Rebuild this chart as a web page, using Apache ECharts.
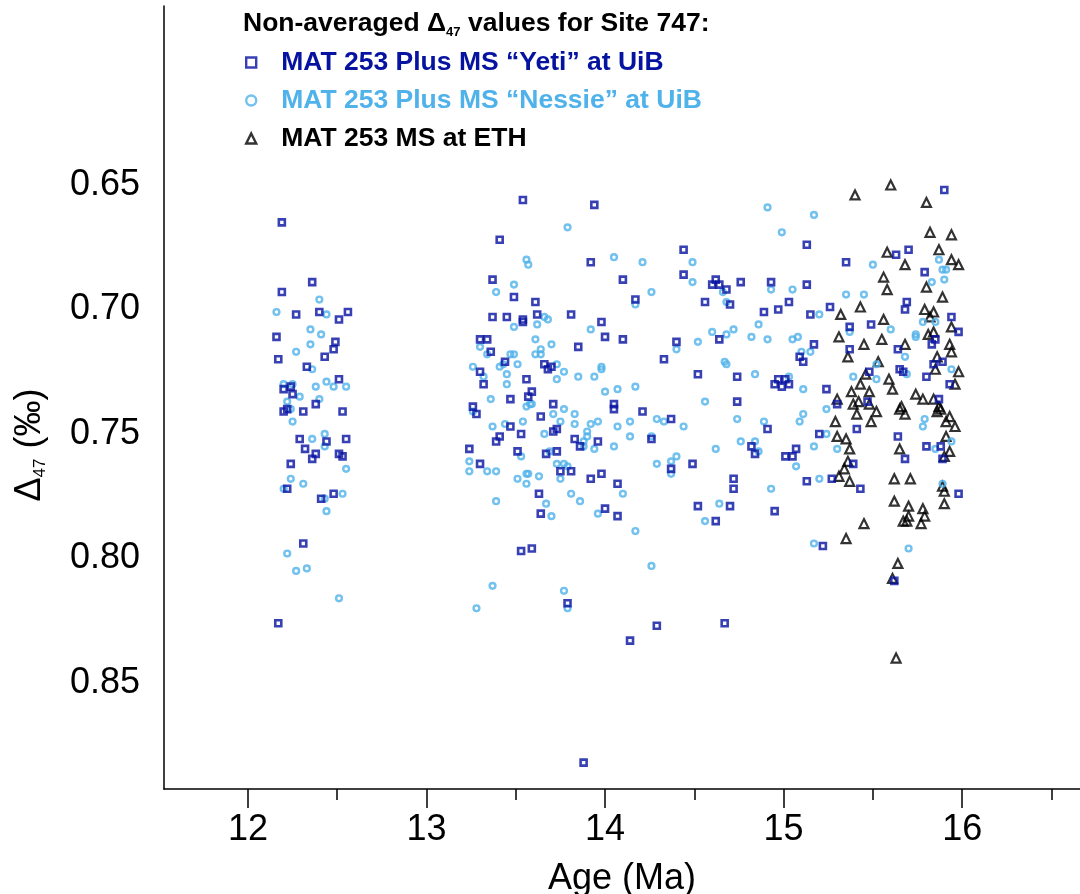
<!DOCTYPE html>
<html>
<head>
<meta charset="utf-8">
<script src="https://cdn.jsdelivr.net/npm/echarts@6/dist/echarts.min.js"></script>
<style>
html, body { margin: 0; background: #fff; }
#main { width: 1080px; height: 894px; }
</style>
</head>
<body>
<div id="main"></div>
<script>
// MAT 253 Plus MS "Yeti" at UiB
var yetiAge = [12.19,12.36,12.19,12.27,12.40,12.56,12.51,12.16,12.49,12.48,12.17,12.43,12.33,12.51,12.24,12.20,12.25,12.38,
  12.20,12.22,12.31,12.53,12.29,12.44,12.55,12.32,12.38,12.36,12.51,12.53,12.24,12.22,12.41,12.48,12.31,12.17,
  13.54,13.94,13.41,13.92,13.37,13.49,13.61,13.37,13.45,13.54,13.54,13.62,13.81,13.98,13.30,13.34,14.00,13.85,13.36,13.44,13.66,13.70,13.68,13.30,13.56,
  13.32,13.47,13.57,13.59,13.26,13.28,13.71,13.64,14.05,14.05,13.47,13.53,13.41,13.39,13.71,13.73,13.83,13.86,13.96,13.24,
  13.51,13.67,13.73,13.30,13.75,13.81,13.98,13.92,14.07,13.63,13.64,14.00,14.07,13.53,13.59,
  13.79,13.88,
  14.44,14.10,14.44,14.62,14.60,14.64,14.68,14.76,14.93,14.17,14.56,14.70,14.89,14.97,15.03,14.10,14.40,14.64,14.33,14.52,14.74,14.97,15.01,15.09,
  14.95,14.99,15.03,14.21,14.37,14.74,14.26,14.91,14.82,14.84,15.01,15.05,15.07,14.49,14.37,14.72,14.72,14.52,14.70,14.95,14.62,14.29,14.67,14.14,
  15.90,15.13,15.63,15.70,15.35,15.79,15.13,15.26,15.15,15.69,15.68,15.94,15.37,15.49,15.98,15.85,
  15.17,15.37,15.64,15.11,15.83,15.89,15.84,15.48,15.65,15.67,15.80,15.93,15.24,15.30,15.47,15.87,15.41,15.20,15.64,15.80,15.88,15.68,15.89,15.39,15.13,15.27,
  15.43,15.98,15.22,15.62];
var yetiD47 = [0.665,0.689,0.693,0.702,0.701,0.701,0.704,0.711,0.713,0.716,0.720,0.719,0.723,0.728,0.731,0.732,0.734,0.738,
  0.741,0.740,0.741,0.741,0.752,0.753,0.752,0.756,0.758,0.760,0.758,0.759,0.762,0.772,0.776,0.774,0.794,0.826,
  0.656,0.658,0.672,0.681,0.688,0.695,0.697,0.703,0.703,0.704,0.705,0.702,0.702,0.705,0.712,0.712,0.711,0.715,0.717,0.721,0.722,0.723,0.724,0.725,0.728,
  0.730,0.736,0.735,0.733,0.739,0.742,0.738,0.743,0.738,0.740,0.747,0.750,0.751,0.753,0.749,0.748,0.752,0.755,0.753,0.756,
  0.757,0.758,0.757,0.762,0.765,0.765,0.766,0.768,0.770,0.774,0.782,0.780,0.783,0.797,0.796,
  0.818,0.882,
  0.676,0.688,0.686,0.688,0.690,0.690,0.692,0.689,0.689,0.696,0.697,0.698,0.701,0.700,0.697,0.712,0.713,0.712,0.720,0.726,0.727,0.728,0.728,0.719,
  0.730,0.731,0.730,0.741,0.744,0.737,0.752,0.748,0.755,0.758,0.759,0.759,0.756,0.762,0.764,0.768,0.772,0.779,0.779,0.781,0.785,0.827,0.826,0.833,
  0.652,0.674,0.678,0.676,0.681,0.685,0.690,0.699,0.702,0.697,0.700,0.703,0.707,0.706,0.709,0.712,
  0.714,0.716,0.716,0.721,0.714,0.721,0.722,0.725,0.724,0.725,0.727,0.730,0.732,0.738,0.737,0.736,0.748,0.750,0.751,0.755,0.755,0.760,0.760,0.762,0.769,0.768,
  0.772,0.774,0.795,0.809];

// MAT 253 Plus MS "Nessie" at UiB
var nessieAge = [12.40,12.16,12.44,12.35,12.41,12.35,12.27,12.36,12.20,12.25,12.44,12.38,12.48,12.55,12.29,12.40,12.22,
  12.24,12.25,12.43,12.36,12.43,12.55,12.24,12.31,12.20,12.43,12.53,12.44,12.22,12.27,12.33,12.51,
  13.79,14.05,13.56,13.57,13.49,13.39,13.66,13.68,13.49,13.62,13.92,13.61,13.30,13.64,13.70,13.34,13.47,13.49,13.61,13.64,
  13.26,13.41,13.43,13.51,13.73,13.77,13.98,13.98,13.45,13.32,13.85,13.94,13.73,
  13.45,14.00,14.07,13.36,13.56,13.58,13.59,13.26,13.71,13.77,13.83,13.37,13.44,13.54,13.75,13.83,13.92,13.96,13.66,13.90,
  13.90,13.88,13.88,14.07,14.05,13.94,13.53,13.69,13.24,13.24,13.34,13.39,13.73,13.77,13.79,13.51,13.56,13.57,13.63,13.56,
  13.75,13.39,13.67,13.81,13.86,13.70,13.96,
  13.37,13.77,13.28,13.79,
  14.91,14.99,14.21,14.49,14.49,14.26,14.66,14.93,15.05,14.17,14.68,14.86,14.60,14.68,14.72,14.82,14.91,15.05,15.08,14.52,
  14.40,14.67,14.68,14.84,15.03,
  14.17,14.56,14.29,14.33,14.44,14.14,14.74,14.89,15.09,14.14,14.26,14.76,14.84,14.86,14.62,14.40,14.37,14.29,14.37,15.07,
  14.10,14.93,14.64,14.56,14.17,14.26,
  15.17,15.50,15.87,15.89,15.91,15.90,15.83,15.35,15.45,15.20,15.78,15.85,15.60,15.37,15.74,15.74,
  15.15,15.10,15.68,15.52,15.69,15.39,15.52,15.94,15.11,15.24,15.11,15.79,15.78,15.24,15.17,15.30,15.85,15.94,15.20,
  15.89,15.17,15.70];
var nessieD47 = [0.696,0.701,0.702,0.708,0.710,0.714,0.717,0.724,0.730,0.730,0.729,0.731,0.731,0.731,0.735,0.736,0.737,
  0.740,0.745,0.750,0.752,0.755,0.764,0.768,0.770,0.772,0.776,0.774,0.781,0.798,0.805,0.804,0.816,
  0.667,0.679,0.680,0.682,0.690,0.693,0.703,0.704,0.707,0.706,0.708,0.712,0.715,0.716,0.714,0.718,0.718,0.718,0.718,0.718,
  0.723,0.723,0.722,0.722,0.722,0.725,0.723,0.724,0.726,0.727,0.727,0.727,0.728,
  0.730,0.733,0.732,0.736,0.739,0.738,0.738,0.741,0.742,0.740,0.742,0.747,0.746,0.745,0.745,0.746,0.746,0.745,0.750,0.749,
  0.751,0.753,0.755,0.747,0.755,0.756,0.759,0.757,0.761,0.765,0.765,0.765,0.762,0.762,0.763,0.768,0.766,0.766,0.767,0.770,
  0.768,0.777,0.778,0.774,0.777,0.783,0.782,
  0.811,0.813,0.820,0.820,
  0.659,0.669,0.681,0.681,0.689,0.693,0.693,0.692,0.692,0.698,0.697,0.706,0.709,0.710,0.708,0.711,0.712,0.712,0.711,0.713,
  0.716,0.721,0.722,0.726,0.727,
  0.731,0.737,0.744,0.745,0.747,0.745,0.744,0.745,0.745,0.751,0.751,0.753,0.753,0.757,0.756,0.759,0.761,0.762,0.766,0.763,
  0.774,0.772,0.778,0.785,0.789,0.803,
  0.662,0.682,0.680,0.684,0.684,0.688,0.689,0.694,0.694,0.702,0.705,0.705,0.708,0.709,0.710,0.711,
  0.717,0.717,0.719,0.722,0.726,0.727,0.728,0.724,0.732,0.740,0.742,0.744,0.747,0.750,0.755,0.756,0.756,0.753,0.768,
  0.770,0.794,0.796];

// MAT 253 MS at ETH
var ethAge = [15.60,15.40,15.80,15.82,15.94,15.87,15.58,15.68,15.94,15.98,15.56,15.80,15.58,15.89,15.43,15.32,15.79,15.84,15.82,15.56,
  15.31,15.55,15.81,15.84,15.94,
  15.45,15.68,15.36,15.93,15.94,15.86,15.53,15.85,15.98,15.46,15.59,15.61,15.43,15.96,15.38,15.48,15.74,15.78,15.84,15.30,
  15.39,15.42,15.48,15.66,15.65,15.87,15.88,15.86,15.52,15.41,15.68,15.93,15.29,15.49,15.91,15.96,15.30,15.35,15.91,15.37,
  15.65,15.93,15.90,15.36,15.34,15.31,15.62,15.71,
  15.37,15.89,15.90,15.90,15.62,15.70,15.78,15.79,15.70,15.69,15.67,15.77,15.45,15.35,15.64,15.61,15.63];
var ethD47 = [0.650,0.654,0.657,0.669,0.670,0.676,0.677,0.682,0.680,0.682,0.687,0.691,0.692,0.695,0.699,0.702,0.700,0.701,0.703,0.704,
  0.711,0.712,0.710,0.709,0.707,
  0.714,0.714,0.719,0.714,0.717,0.719,0.721,0.724,0.725,0.726,0.728,0.732,0.730,0.730,0.733,0.733,0.734,0.736,0.736,0.736,
  0.738,0.737,0.738,0.739,0.740,0.739,0.740,0.741,0.741,0.742,0.742,0.743,0.745,0.745,0.745,0.747,0.751,0.752,0.751,0.756,
  0.756,0.757,0.759,0.761,0.764,0.767,0.768,0.768,
  0.769,0.771,0.773,0.778,0.777,0.779,0.780,0.783,0.783,0.785,0.785,0.786,0.786,0.792,0.802,0.808,0.840];

var ageTicks = [12, 13, 14, 15, 16];
var ageHalfTicks = [12.5, 13.5, 14.5, 15.5, 16.5];
var d47Ticks = [0.65, 0.70, 0.75, 0.80, 0.85];

var yetiName = 'MAT 253 Plus MS \u201cYeti\u201d at UiB';
var nessieName = 'MAT 253 Plus MS \u201cNessie\u201d at UiB';
var ethName = 'MAT 253 MS at ETH';
var yetiColor = '#0612a0';
var nessieColor = '#4fb2ea';
var ethColor = '#000000';

function pairs(a, b) {
  return a.map(function (v, i) { return [v, b[i]]; });
}

var font = '"Liberation Sans", Arial, Helvetica, sans-serif';
var chart = echarts.init(document.getElementById('main'));

var option = {
  animation: false,
  textStyle: { fontFamily: font },
  title: {
    text: 'Non-averaged \u0394{sub|47} values for Site 747:',
    left: 243,
    top: 8,
    padding: 0,
    textStyle: {
      fontFamily: font,
      fontSize: 26.5,
      fontWeight: 'bold',
      color: '#000',
      rich: {
        sub: { fontFamily: font, fontSize: 13, fontWeight: 'bold', color: '#000', padding: [18, 0, 0, 0] }
      }
    }
  },
  legend: {
    orient: 'vertical',
    left: 245,
    top: 49,
    padding: 0,
    itemGap: 11,
    itemWidth: 10,
    itemHeight: 10,
    itemStyle: { borderWidth: 2.4 },
    textStyle: { fontFamily: font, fontSize: 26.5, fontWeight: 'bold', padding: [0, 0, 0, 20] },
    data: [
      { name: yetiName, textStyle: { color: yetiColor } },
      { name: nessieName, textStyle: { color: nessieColor } },
      { name: ethName, textStyle: { color: ethColor } }
    ]
  },
  grid: { left: 164, right: 0, top: 6, bottom: 105, containLabel: false, outerBoundsMode: 'none' },
  xAxis: [{
    type: 'value',
    min: 11.53,
    max: 16.66,
    position: 'bottom',
    axisLine: { show: true, lineStyle: { color: '#000', width: 1.5 } },
    axisTick: { show: true, customValues: ageHalfTicks, length: 11, lineStyle: { color: '#000', width: 1.5 } },
    axisLabel: { show: false },
    splitLine: { show: false }
  }, {
    type: 'value',
    min: 11.53,
    max: 16.66,
    position: 'bottom',
    axisLine: { show: false },
    axisTick: { show: true, customValues: ageTicks, length: 19, lineStyle: { color: '#000', width: 1.5 } },
    axisLabel: { customValues: ageTicks, fontSize: 36, color: '#000', margin: 23, fontFamily: font },
    splitLine: { show: false },
    name: 'Age (Ma)',
    nameLocation: 'middle',
    nameGap: 72,
    nameTextStyle: { fontSize: 36, color: '#000', fontFamily: font }
  }],
  yAxis: {
    type: 'value',
    inverse: true,
    min: 0.5781,
    max: 0.8926,
    axisLine: { show: true, lineStyle: { color: '#000', width: 1.5 } },
    axisTick: { show: false },
    axisLabel: {
      customValues: d47Ticks,
      fontSize: 36,
      color: '#000',
      margin: 24,
      fontFamily: font,
      formatter: function (v) { return v.toFixed(2); }
    },
    splitLine: { show: false }
  },
  graphic: [{
    type: 'text',
    x: 30,
    y: 445,
    rotation: Math.PI / 2,
    style: {
      text: '\u0394{s|47} (\u2030)',
      fontFamily: font,
      fontSize: 36,
      fill: '#000',
      align: 'center',
      verticalAlign: 'middle',
      rich: {
        s: { fontFamily: font, fontSize: 17, fill: '#000', padding: [20, 0, 0, 0] }
      }
    }
  }],
  series: [{
    name: ethName,
    type: 'scatter',
    symbol: 'triangle',
    symbolSize: 9,
    itemStyle: { color: 'rgba(0,0,0,0)', borderColor: ethColor, borderWidth: 2.2 },
    data: pairs(ethAge, ethD47)
  }, {
    name: nessieName,
    type: 'scatter',
    symbol: 'circle',
    symbolSize: 5.8,
    itemStyle: { color: 'rgba(0,0,0,0)', borderColor: nessieColor, borderWidth: 2.4 },
    data: pairs(nessieAge, nessieD47)
  }, {
    name: yetiName,
    type: 'scatter',
    symbol: 'rect',
    symbolSize: 6,
    itemStyle: { color: 'rgba(0,0,0,0)', borderColor: yetiColor, borderWidth: 2.6 },
    data: pairs(yetiAge, yetiD47)
  }]
};

chart.setOption(option);
window.addEventListener('resize', function () { chart.resize(); });
</script>
</body>
</html>
